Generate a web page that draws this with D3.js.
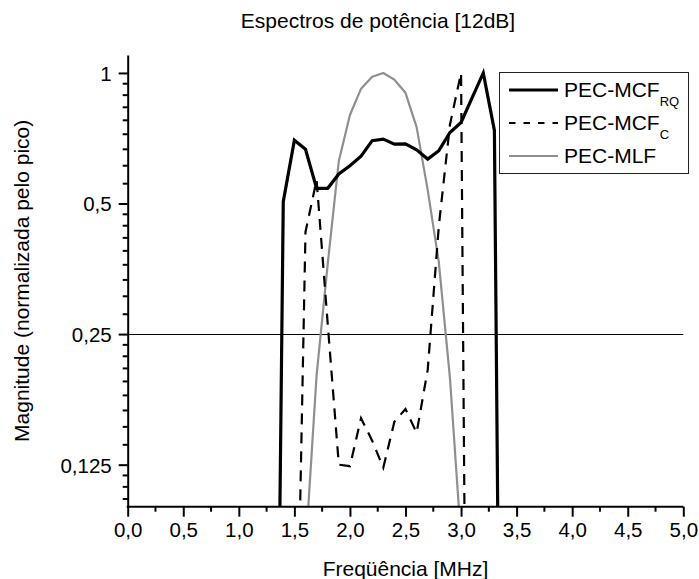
<!DOCTYPE html>
<html>
<head>
<meta charset="utf-8">
<script src="https://cdn.jsdelivr.net/npm/d3@7"></script>
<style>
  html, body { margin: 0; padding: 0; background: #fff; }
  svg { display: block; font-family: "Liberation Sans", Arial, sans-serif; }
</style>
</head>
<body>
<svg id="chart" width="699" height="579"></svg>
<script>
// Frequency grid (MHz), sampled every 0.1 MHz across the band
const freqRQ = [1.3, 1.4, 1.5, 1.6, 1.7, 1.8, 1.9, 2.0, 2.1, 2.2, 2.3, 2.4, 2.5, 2.6, 2.7, 2.8, 2.9, 3.0, 3.1, 3.2, 3.3, 3.4];
const magRQ  = [0.0023, 0.505, 0.70, 0.667, 0.542, 0.542, 0.585, 0.611, 0.643, 0.698, 0.704, 0.685, 0.686, 0.665, 0.633, 0.662, 0.729, 0.769, 0.877, 1.0, 0.737, 0.0009];

const freqC = [1.4, 1.5, 1.6, 1.7, 1.8, 1.9, 2.0, 2.1, 2.2, 2.3, 2.4, 2.5, 2.6, 2.7, 2.8, 2.9, 3.0, 3.1];
const magC  = [0.001, 0.021, 0.43, 0.567, 0.264, 0.125, 0.124, 0.16, 0.142, 0.123, 0.157, 0.168, 0.148, 0.207, 0.444, 0.76, 1.0, 0.0005];

const freqMLF = [1.5, 1.6, 1.7, 1.8, 1.9, 2.0, 2.1, 2.2, 2.3, 2.4, 2.5, 2.6, 2.7, 2.8, 2.9, 3.0, 3.1];
const magMLF  = [0.01, 0.079, 0.201, 0.363, 0.627, 0.80, 0.92, 0.98, 1.0, 0.965, 0.90, 0.75, 0.537, 0.366, 0.198, 0.084, 0.01];

const xTickValues = [0, 0.5, 1, 1.5, 2, 2.5, 3, 3.5, 4, 4.5, 5];
const xTickLabels = ["0,0", "0,5", "1,0", "1,5", "2,0", "2,5", "3,0", "3,5", "4,0", "4,5", "5,0"];
const yTickValues = [1, 0.5, 0.25, 0.125];
const yTickLabels = ["1", "0,5", "0,25", "0,125"];
const refLevel = 0.25;

const legendNames = ["PEC-MCF", "PEC-MCF", "PEC-MLF"];
const legendSubs = ["RQ", "C", ""];

const titleText = "Espectros de potência [12dB]";
const xTitle = "Freqüência [MHz]";
const yTitle = "Magnitude (normalizada pelo pico)";

// Plot frame
const plotLeft = 127.7, plotRight = 683.3, plotTop = 55, plotBottom = 506.7;
const svg = d3.select("#chart");

const x = d3.scaleLinear().domain([0, 5]).range([plotLeft, plotRight]);
const y = d3.scaleLog().base(2).domain([0.1, 1.1]).range([plotBottom, plotTop]);

// Minor ticks: eight evenly spaced values inside each octave
const yMinor = [];
for (let n = -4; n <= 0; n++) {
  const b = Math.pow(2, n);
  for (let k = 1; k <= 8; k++) {
    const v = b * (1 + k / 9);
    if (v >= 0.1 && v <= 1.1) yMinor.push(v);
  }
}
const xMinor = d3.range(0.25, 5, 0.5);

svg.append("defs").append("clipPath").attr("id", "plotClip")
  .append("rect").attr("x", plotLeft).attr("y", plotTop)
  .attr("width", plotRight - plotLeft).attr("height", plotBottom - plotTop);

// Reference level line, snapped to the pixel grid
const refY = Math.round(y(refLevel)) + 0.5;
svg.append("line")
  .attr("x1", plotLeft).attr("x2", plotRight)
  .attr("y1", refY).attr("y2", refY)
  .attr("stroke", "#000").attr("stroke-width", 1);

// Series
const line = d3.line().x(d => x(d[0])).y(d => y(d[1]));
const plot = svg.append("g").attr("clip-path", "url(#plotClip)");

plot.append("path")
  .datum(d3.zip(freqMLF, magMLF))
  .attr("d", line).attr("fill", "none")
  .attr("stroke", "#8f8f8f").attr("stroke-width", 2.2)
  .attr("stroke-linejoin", "round");

plot.append("path")
  .datum(d3.zip(freqC, magC))
  .attr("d", line).attr("fill", "none")
  .attr("stroke", "#000").attr("stroke-width", 2.2)
  .attr("stroke-dasharray", "11,8");

plot.append("path")
  .datum(d3.zip(freqRQ, magRQ))
  .attr("d", line).attr("fill", "none")
  .attr("stroke", "#000").attr("stroke-width", 3.2)
  .attr("stroke-linejoin", "miter");

// Axes
const xAxis = d3.axisBottom(x).tickValues(xTickValues)
  .tickFormat((d, i) => xTickLabels[i]).tickSize(10).tickSizeOuter(0).tickPadding(6);
const gx = svg.append("g").attr("transform", `translate(0,${plotBottom})`).call(xAxis);
gx.append("g").selectAll("line").data(xMinor).join("line")
  .attr("x1", d => x(d)).attr("x2", d => x(d))
  .attr("y1", 0).attr("y2", 5)
  .attr("stroke", "#000").attr("stroke-width", 2);

const yAxis = d3.axisLeft(y).tickValues(yTickValues)
  .tickFormat((d, i) => yTickLabels[i]).tickSize(9).tickSizeOuter(0).tickPadding(7);
const gy = svg.append("g").attr("transform", `translate(${plotLeft},0)`).call(yAxis);
gy.append("g").selectAll("line").data(yMinor).join("line")
  .attr("x1", 0).attr("x2", -5)
  .attr("y1", d => y(d)).attr("y2", d => y(d))
  .attr("stroke", "#000").attr("stroke-width", 2);

[gx, gy].forEach(g => {
  g.select(".domain").attr("stroke", "#000").attr("stroke-width", 2);
  g.selectAll(".tick line").attr("stroke", "#000").attr("stroke-width", 2);
  g.selectAll(".tick text").attr("fill", "#000").attr("font-size", 20.5)
    .attr("font-family", "Liberation Sans, Arial, sans-serif");
});
gx.selectAll(".tick text").attr("dy", "0.71em");
gy.selectAll(".tick text").attr("dy", "0.36em");

// Extend the bottom axis line so it meets the left axis at the corner
gx.select(".domain").attr("d", `M${plotLeft - 1},0H${plotRight}`);

// Titles
svg.append("text").attr("x", 378).attr("y", 28)
  .attr("text-anchor", "middle").attr("font-size", 21).attr("fill", "#000")
  .text(titleText);
svg.append("text").attr("x", (plotLeft + plotRight) / 2).attr("y", 576)
  .attr("text-anchor", "middle").attr("font-size", 21).attr("fill", "#000")
  .text(xTitle);
svg.append("text")
  .attr("transform", `translate(29,${(plotTop + plotBottom) / 2}) rotate(-90)`)
  .attr("text-anchor", "middle").attr("font-size", 21).attr("fill", "#000")
  .text(yTitle);

// Legend
const lg = svg.append("g");
lg.append("rect").attr("x", 499.5).attr("y", 72.5).attr("width", 189).attr("height", 101)
  .attr("fill", "#fff").attr("stroke", "#222").attr("stroke-width", 1);
const legendStyles = [
  { stroke: "#000", width: 3.2, dash: null },
  { stroke: "#000", width: 2.2, dash: "6.5,8" },
  { stroke: "#8f8f8f", width: 2.2, dash: null }
];
legendNames.forEach((name, i) => {
  const base = 97 + i * 33;
  const s = legendStyles[i];
  lg.append("line").attr("x1", 509).attr("x2", 558)
    .attr("y1", base - 7).attr("y2", base - 7)
    .attr("stroke", s.stroke).attr("stroke-width", s.width)
    .attr("stroke-dasharray", s.dash);
  const t = lg.append("text").attr("x", 564).attr("y", base)
    .attr("font-size", 21).attr("fill", "#000").text(name);
  if (legendSubs[i]) {
    t.append("tspan").attr("dy", 9).attr("font-size", 13).text(legendSubs[i]);
  }
});
</script>
</body>
</html>
